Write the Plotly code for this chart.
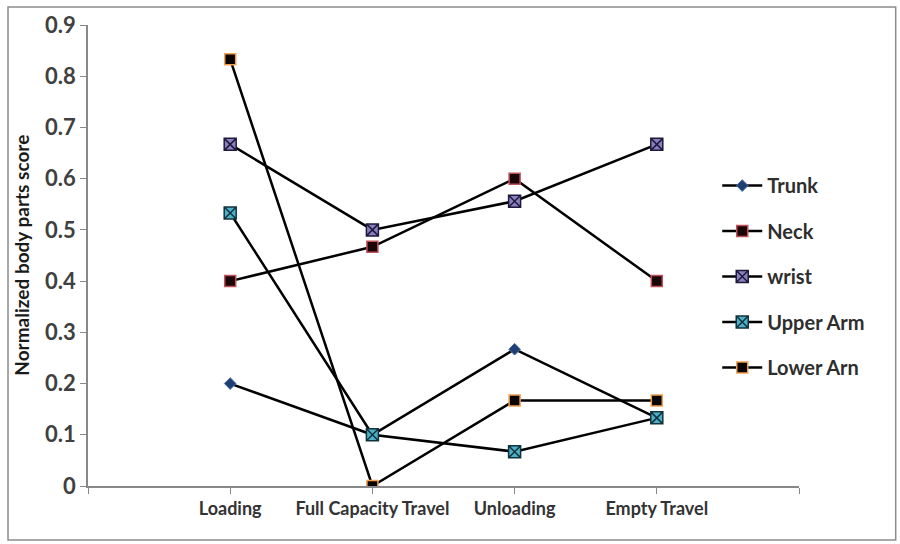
import plotly.graph_objects as go

# Task phases and normalized body-part scores
phases = ["Loading", "Full Capacity Travel", "Unloading", "Empty Travel"]
trunk = [0.2, 0.1, 0.267, 0.133]
neck = [0.4, 0.467, 0.6, 0.4]
wrist = [0.667, 0.5, 0.556, 0.667]
upper_arm = [0.533, 0.1, 0.067, 0.133]
lower_arm = [0.833, 0.0, 0.167, 0.167]
y_ticks = [0, 0.1, 0.2, 0.3, 0.4, 0.5, 0.6, 0.7, 0.8, 0.9]

# phase positions on a numeric axis (slots 1..4 of 0..5)
xpos = list(range(1, len(phases) + 1))

series = [
    ("Trunk", trunk, dict(symbol="diamond", size=9, color="#1f3f73",
                          line=dict(color="#4a6fa5", width=1))),
    ("Neck", neck, dict(symbol="square", size=11, color="#1a0508",
                        line=dict(color="#c0505a", width=1.5))),
    ("wrist", wrist, dict(symbol="square-x", size=12, color="#8a7fc0",
                          line=dict(color="#1e1a3a", width=1.5))),
    ("Upper Arm", upper_arm, dict(symbol="square-x", size=12, color="#4bb0c8",
                                  line=dict(color="#12323c", width=1.5))),
    ("Lower Arn", lower_arm, dict(symbol="square", size=11, color="#0a0505",
                                  line=dict(color="#f0a050", width=1.5))),
]

fig = go.Figure()
for i, (name, vals, mk) in enumerate(series):
    fig.add_trace(go.Scatter(
        x=xpos, y=vals, name=name, mode="lines+markers",
        line=dict(color="#000000", width=2.5),
        marker=mk, legendgroup=f"g{i}",
    ))

fig.update_layout(
    width=900, height=544,
    margin=dict(l=88, r=101, t=25, b=58),
    paper_bgcolor="white", plot_bgcolor="white",
    font=dict(family="Lato", color="#333333"),
    showlegend=True,
    legend=dict(x=0.885, y=0.694, xanchor="left", yanchor="top",
                font=dict(size=20, color="#2e2e2e", family="Lato", weight="bold"),
                tracegroupgap=16.5, itemwidth=40, bgcolor="rgba(0,0,0,0)"),
    xaxis=dict(
        range=[0, 5], tickmode="array", tickvals=xpos, ticktext=phases,
        ticks="outside", ticklen=6, tickcolor="#888888",
        showline=True, linecolor="#888888", linewidth=1.5,
        showgrid=False, zeroline=False,
        tickfont=dict(size=18, color="#333333", family="Lato", weight="bold"),
        minor=dict(tickmode="array", tickvals=[0, 5], ticks="outside",
                   ticklen=6, tickcolor="#888888"),
    ),
    yaxis=dict(
        range=[0, 0.9], tickmode="array", tickvals=y_ticks,
        ticktext=[("%g" % v) for v in y_ticks],
        ticks="outside", ticklen=6, tickcolor="#888888",
        showline=True, linecolor="#888888", linewidth=1.5,
        showgrid=False, zeroline=False,
        tickfont=dict(size=22, color="#404040", family="Lato", weight="bold"),
    ),
    annotations=[dict(
        text="Normalized body parts score", textangle=-90,
        xref="paper", yref="paper", x=-0.094, y=0.50,
        xanchor="center", yanchor="middle", showarrow=False,
        font=dict(size=19, color="#1a1a1a", family="Lato", weight="bold"),
    )],
    shapes=[dict(
        type="rect", xref="paper", yref="paper",
        x0=-0.1125, x1=1.136, y0=-0.117, y1=1.039,
        line=dict(color="#8c8c8c", width=1.5), layer="below",
    )],
)

fig.write_html("out.html")
